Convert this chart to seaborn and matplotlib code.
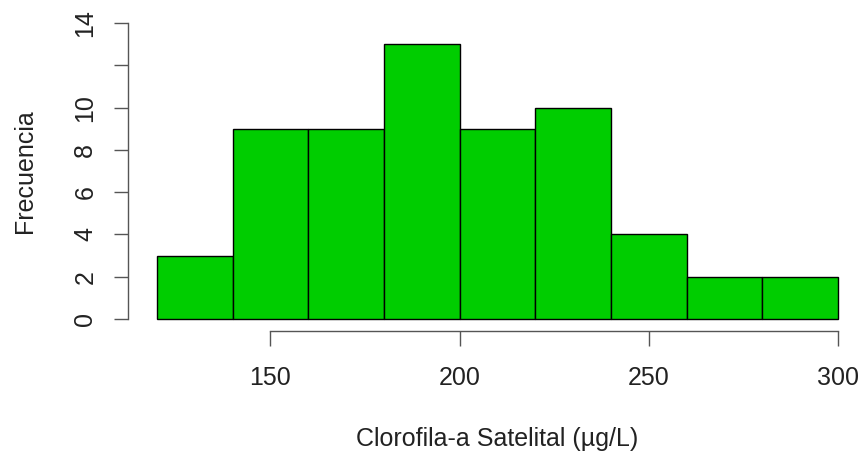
import matplotlib
matplotlib.use("Agg")
import matplotlib.pyplot as plt
import seaborn as sns

# Histogram of satellite chlorophyll-a: bin edges and counts per bin
bin_edges = [120, 140, 160, 180, 200, 220, 240, 260, 280, 300]
counts = [3, 9, 9, 13, 9, 10, 4, 2, 2]
x_ticks = [150, 200, 250, 300]
y_ticks = [0, 2, 4, 6, 8, 10, 12, 14]
y_tick_labels = ["0", "2", "4", "6", "8", "10", "", "14"]

bin_centers = [(a + b) / 2 for a, b in zip(bin_edges[:-1], bin_edges[1:])]

sns.set_style("white")
plt.rcParams["font.family"] = ["Liberation Sans", "DejaVu Sans"]

fig = plt.figure(figsize=(8.61, 4.54), dpi=100)
ax = fig.add_axes([157 / 861, (454 - 319) / 454, (838 - 157) / 861, (319 - 23) / 454])

sns.histplot(x=bin_centers, weights=counts, bins=bin_edges, ax=ax,
             color="#00CD00", edgecolor="black", linewidth=1.0, alpha=1.0)

ax.set_xlim(bin_edges[0], bin_edges[-1])
ax.set_ylim(0, 14)
for p in ax.patches:
    p.set_clip_on(False)

axis_col = "#555555"
text_col = "#222222"
fs = 18
for side in ["top", "right"]:
    ax.spines[side].set_visible(False)
ax.spines["left"].set_position(("outward", 21))
ax.spines["bottom"].set_position(("outward", 8.5))
ax.spines["left"].set_bounds(0, 14)
ax.spines["bottom"].set_bounds(150, 300)
for side in ["left", "bottom"]:
    ax.spines[side].set_color(axis_col)
    ax.spines[side].set_linewidth(1.0)

ax.set_xticks(x_ticks)
ax.set_xticklabels([str(t) for t in x_ticks])
ax.set_yticks(y_ticks)
ax.set_yticklabels(y_tick_labels, rotation=90, va="center")

ax.tick_params(axis="x", length=11, width=1.0, color=axis_col, pad=14,
               labelsize=fs, labelcolor=text_col, direction="out", bottom=True)
ax.tick_params(axis="y", length=10, width=1.0, color=axis_col, pad=12,
               labelsize=fs, labelcolor=text_col, direction="out", left=True)

ax.set_xlabel("Clorofila-a Satelital (µg/L)", fontsize=fs, color=text_col, va="center")
ax.set_ylabel("Frecuencia", fontsize=fs, color=text_col, va="center")
ax.xaxis.set_label_coords(0.5, (319 - 439) / 296)
ax.yaxis.set_label_coords((25 - 157) / 681, 0.5)

fig.savefig("out.png", dpi=100, facecolor="white")
